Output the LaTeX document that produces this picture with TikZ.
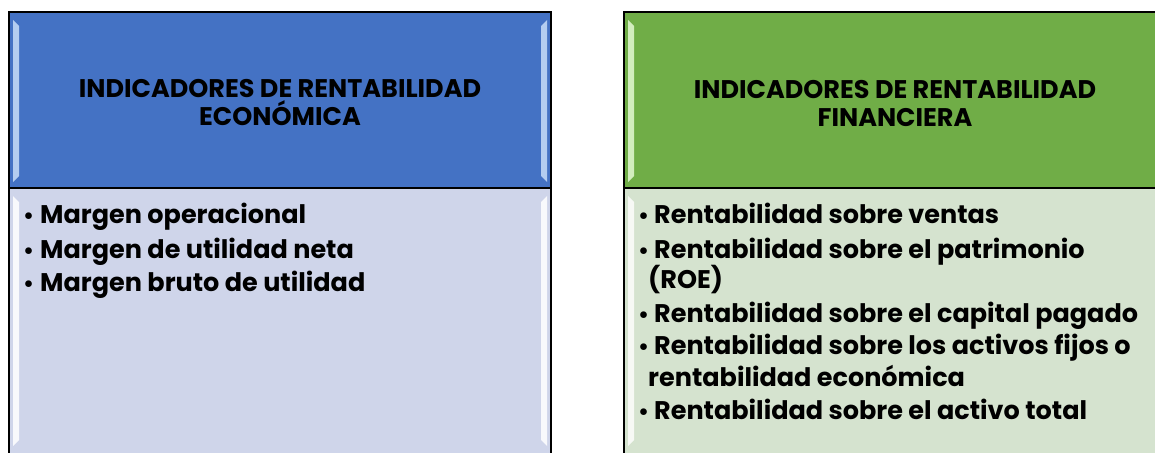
\documentclass[tikz,border=0pt]{standalone}
\usepackage{fontspec}
\setmainfont{Poppins}
\usetikzlibrary{calc}
\definecolor{hblue}{HTML}{4472C4}
\definecolor{bblue}{HTML}{CFD5EA}
\definecolor{hgreen}{HTML}{70AD47}
\definecolor{bgreen}{HTML}{D5E3CF}
\definecolor{hlblue}{HTML}{B4CDF0}
\definecolor{hlgreen}{HTML}{D2EDBE}
\tikzset{
  frame/.style={draw=black, line width=2pt},
  headtxt/.style={inner sep=0pt, align=center, font=\bfseries\fontsize{25.5}{28}\selectfont},
  itemtxt/.style={inner sep=0pt, anchor=base west, font=\bfseries\fontsize{25.5}{30}\selectfont},
  bul/.style={inner sep=0pt, anchor=base west, font=\bfseries\fontsize{22}{26}\selectfont},
}
\newcommand{\bevel}[5]{% x0, x1(inner), ytop, ybot, color
  \fill[#5] (#1,#3) -- (#2,{#3+6}) -- (#2,{#4-6}) -- (#1,#4) -- cycle;}
\begin{document}
\begin{tikzpicture}[x=1pt,y=-1pt]
\useasboundingbox (0,0) rectangle (1155,452);
% ---------- left panel ----------
\fill[hblue] (9,12) rectangle (551,188);
\fill[bblue] (9,188) rectangle (551,460);
\bevel{13}{19}{20}{182}{hlblue}
\bevel{547}{541}{20}{182}{hlblue}
\bevel{13}{19}{196}{446}{white!85!bblue}
\bevel{547}{541}{196}{446}{white!85!bblue}
\draw[frame] (9,460) -- (9,12) -- (551,12) -- (551,460);
\draw[frame] (9,188) -- (551,188);
% ---------- right panel ----------
\fill[hgreen] (624,12) rectangle (1166,188);
\fill[bgreen] (624,188) rectangle (1166,460);
\bevel{628}{634}{20}{182}{hlgreen}
\bevel{1162}{1156}{20}{182}{hlgreen}
\bevel{628}{634}{196}{446}{white!80!bgreen}
\bevel{1162}{1156}{196}{446}{white!80!bgreen}
\draw[frame] (624,460) -- (624,12) -- (1166,12) -- (1166,460);
\draw[frame] (624,188) -- (1166,188);
% ---------- headers ----------
\node[headtxt] (h1) at (280,103) {INDICADORES DE RENTABILIDAD\\ECONÓMICA};
\node[headtxt] (h2) at (895,103) {INDICADORES DE RENTABILIDAD\\FINANCIERA};
% ---------- left items ----------
\node[bul] (lb1) at (23,223) {•};
\node[itemtxt] (l1) at (40,223) {Margen operacional};
\node[bul] (lb2) at (23,258) {•};
\node[itemtxt] (l2) at (40,258) {Margen de utilidad neta};
\node[bul] (lb3) at (23,291) {•};
\node[itemtxt] (l3) at (40,291) {Margen bruto de utilidad};
% ---------- right items ----------
\node[bul] (rb1) at (638,223) {•};
\node[itemtxt] (r1) at (654,223) {Rentabilidad sobre ventas};
\node[bul] (rb2) at (638,258) {•};
\node[itemtxt] (r2) at (654,258) {Rentabilidad sobre el patrimonio};
\node[itemtxt] (r2b) at (648,288) {(ROE)};
\node[bul] (rb3) at (638,322) {•};
\node[itemtxt] (r3) at (654,322) {Rentabilidad sobre el capital pagado};
\node[bul] (rb4) at (638,354) {•};
\node[itemtxt] (r4) at (654,354) {Rentabilidad sobre los activos fijos o};
\node[itemtxt] (r4b) at (648,386) {rentabilidad económica};
\node[bul] (rb5) at (638,419) {•};
\node[itemtxt] (r5) at (654,419) {Rentabilidad sobre el activo total};
\end{tikzpicture}
\end{document}
